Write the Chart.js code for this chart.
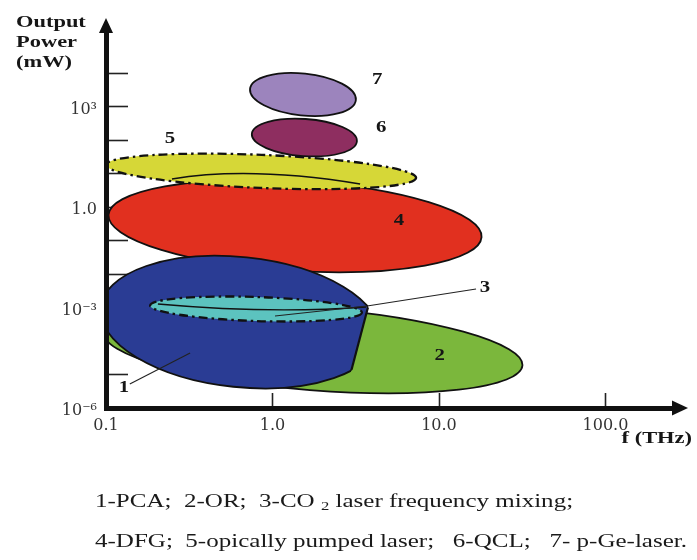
<!DOCTYPE html>
<html>
<head>
<meta charset="utf-8">
<script src="https://cdn.jsdelivr.net/npm/chart.js@4.4.1/dist/chart.umd.min.js"></script>
<style>
  html, body { margin: 0; padding: 0; background: #fff; }
  #wrap { position: relative; width: 697px; height: 560px; }
  #grafico { position: absolute; left: 0; top: 0; }
  .nota {
    position: absolute; left: 95px;
    font-family: 'Liberation Serif', serif; font-size: 18px; line-height: 18px;
    white-space: pre; color: #1a1a1a;
    transform: scaleX(1.39); transform-origin: 0 0;
  }
  .nota sub { font-size: 12px; line-height: 0; vertical-align: -3px; }
</style>
</head>
<body>
<div id="wrap">
  <canvas id="grafico" width="697" height="560"></canvas>
  <div class="nota" style="top:492px">1-PCA;  2-OR;  3-CO <sub>2</sub> laser frequency mixing;</div>
  <div class="nota" style="top:532px">4-DFG;  5-opically pumped laser;   6-QCL;   7- p-Ge-laser.</div>
</div>
<script>
// ── DATOS ──────────────────────────────────────
// Regiones de cada fuente THz: rango de frecuencia (THz) y de potencia (mW)
const FUENTES = ['1', '2', '3', '4', '5', '6', '7'];
const NOMBRES = ['PCA', 'OR', 'CO2 laser frequency mixing', 'DFG', 'opically pumped laser', 'QCL', 'p-Ge-laser'];
const F_MIN   = [0.092,  0.096,  0.184,   0.103,  0.100, 0.75, 0.73];
const F_MAX   = [4.43,   32,     3.45,    18.1,   7.3,   3.22, 3.18];
const P_MIN   = [4.2e-6, 3.4e-6, 3.95e-4, 0.0123, 3.7,   33,   540];
const P_MAX   = [0.032,  9.7e-4, 2.06e-3, 5.97,   36,    424,  9660];
// la región 1 termina en un corte inclinado: f del corte a la altura de P_MAX y de P_MIN
const CORTE_ARRIBA = [4.5, null, null, null, null, null, null];
const CORTE_ABAJO  = [2.8, null, null, null, null, null, null];

// Ejes
const X_TICKS  = [0.1, 1, 10, 100];
const X_LABELS = ['0.1', '1.0', '10.0', '100.0'];
const Y_TICKS  = [1e-6, 1e-5, 1e-4, 1e-3, 1e-2, 1e-1, 1, 1e1, 1e2, 1e3, 1e4];
const Y_LABELS = ['10⁻⁶', '', '', '10⁻³', '', '', '1.0', '', '', '10³', ''];

// Trazos auxiliares en unidades de los ejes [f, P]
const ARCO_5 = [[0.249, 6.85], [0.733, 16.7], [3.36, 4.86]];
const EJE_3  = [[0.205, 1.27e-3], [0.966, 6.4e-4], [3.65, 1.035e-3]];
const GUIA_3 = [[16.7, 3.56e-3], [3.70, 1.11e-3], [1.035, 5.57e-4]];
const GUIA_1 = [[0.139, 5.2e-6], [0.32, 4.38e-5]];
const ROTULO = [[0.128, 3.95e-6], [10.1, 3.56e-5], [18.9, 3.82e-3], [5.75, 0.382], [0.242, 107], [4.49, 228], [4.25, 6180]];

// ── ESTILO ─────────────────────────────────────
const COLORES  = ['#2a3c94', '#7bb73c', '#5cc3bf', '#e1301f', '#d6d737', '#8e2e60', '#9c84bd'];
const GIRO     = [6, 4.5, 1.9, 3.4, 2.4, 4, 6];          // grados
const PUNTEADA = [false, false, true, false, true, false, false];
const ORDEN    = [3, 4, 1, 0, 2, 5, 6];
const SERIF    = '"Liberation Serif", serif';

// ── DIBUJO ─────────────────────────────────────
function caminoElipse(ctx, sx, sy, i) {
  const cx = sx.getPixelForValue(Math.sqrt(F_MIN[i] * F_MAX[i]));
  const cy = sy.getPixelForValue(Math.sqrt(P_MIN[i] * P_MAX[i]));
  const rx = Math.abs(sx.getPixelForValue(F_MAX[i]) - sx.getPixelForValue(F_MIN[i])) / 2;
  const ry = Math.abs(sy.getPixelForValue(P_MIN[i]) - sy.getPixelForValue(P_MAX[i])) / 2;
  ctx.beginPath();
  ctx.ellipse(cx, cy, rx, ry, GIRO[i] * Math.PI / 180, 0, 2 * Math.PI);
}

function bordeElipse(ctx, i) {
  ctx.strokeStyle = '#111';
  if (PUNTEADA[i]) { ctx.lineWidth = 2.3; ctx.setLineDash([9, 4, 2.5, 4]); }
  else { ctx.lineWidth = 1.8; ctx.setLineDash([]); }
  ctx.stroke();
  ctx.setLineDash([]);
}

function dibujarRegion(ctx, sx, sy, i, a) {
  const corte = CORTE_ARRIBA[i] !== null;
  let xa, xb;
  if (corte) {
    // prolonga la recta del corte hasta los bordes del área
    const x1 = sx.getPixelForValue(CORTE_ARRIBA[i]), y1 = sy.getPixelForValue(P_MAX[i]);
    const x2 = sx.getPixelForValue(CORTE_ABAJO[i]),  y2 = sy.getPixelForValue(P_MIN[i]);
    const m = (x2 - x1) / (y2 - y1);
    xa = x1 + m * (a.top - y1);
    xb = x1 + m * (a.bottom - y1);
  }
  ctx.save();
  if (corte) {
    ctx.beginPath();
    ctx.moveTo(a.left - 10, a.top);
    ctx.lineTo(xa, a.top);
    ctx.lineTo(xb, a.bottom);
    ctx.lineTo(a.left - 10, a.bottom);
    ctx.closePath();
    ctx.clip();
  }
  caminoElipse(ctx, sx, sy, i);
  ctx.fillStyle = COLORES[i];
  ctx.fill();
  bordeElipse(ctx, i);
  ctx.restore();
  if (corte) {
    // borde del corte
    ctx.save();
    caminoElipse(ctx, sx, sy, i);
    ctx.clip();
    ctx.beginPath();
    ctx.moveTo(xa, a.top);
    ctx.lineTo(xb, a.bottom);
    ctx.strokeStyle = '#111';
    ctx.lineWidth = 2.2;
    ctx.stroke();
    ctx.restore();
  }
}

function curva(ctx, sx, sy, pts, ancho) {
  const p = pts.map(q => [sx.getPixelForValue(q[0]), sy.getPixelForValue(q[1])]);
  ctx.beginPath();
  ctx.moveTo(p[0][0], p[0][1]);
  if (p.length === 3) ctx.quadraticCurveTo(p[1][0], p[1][1], p[2][0], p[2][1]);
  else ctx.lineTo(p[1][0], p[1][1]);
  ctx.lineWidth = ancho;
  ctx.strokeStyle = '#111';
  ctx.stroke();
}

function polilinea(ctx, sx, sy, pts, ancho) {
  ctx.beginPath();
  pts.forEach((q, k) => {
    const px = sx.getPixelForValue(q[0]), py = sy.getPixelForValue(q[1]);
    if (k === 0) ctx.moveTo(px, py); else ctx.lineTo(px, py);
  });
  ctx.lineWidth = ancho;
  ctx.strokeStyle = '#222';
  ctx.stroke();
}

function texto(ctx, s, px, py, align, base, font, esc) {
  ctx.save();
  ctx.font = font;
  ctx.fillStyle = '#161616';
  ctx.textAlign = align;
  ctx.textBaseline = base;
  ctx.translate(px, py);
  ctx.scale(esc, 1);
  ctx.fillText(s, 0, 0);
  ctx.restore();
}

const pluginRegiones = {
  id: 'regiones',
  beforeDraw(chart) {
    const { ctx, chartArea: a, scales: { x, y } } = chart;
    ctx.save();

    // marcas hacia dentro de los ejes
    ctx.strokeStyle = '#222';
    ctx.lineWidth = 1.6;
    y.ticks.forEach(t => {
      if (t.value <= y.min) return;
      const py = Math.round(y.getPixelForValue(t.value)) + 0.5;
      ctx.beginPath(); ctx.moveTo(a.left, py); ctx.lineTo(a.left + 22, py); ctx.stroke();
    });
    x.ticks.forEach(t => {
      if (t.value <= x.min) return;
      const px = Math.round(x.getPixelForValue(t.value)) + 0.5;
      ctx.beginPath(); ctx.moveTo(px, a.bottom); ctx.lineTo(px, a.bottom - 15); ctx.stroke();
    });

    ctx.beginPath();
    ctx.rect(a.left, a.top, a.right - a.left, a.bottom - a.top);
    ctx.clip();

    ORDEN.forEach(i => dibujarRegion(ctx, x, y, i, a));

    curva(ctx, x, y, ARCO_5, 1.6);
    curva(ctx, x, y, EJE_3, 1.4);
    polilinea(ctx, x, y, GUIA_3, 1.1);
    polilinea(ctx, x, y, GUIA_1, 1.1);

    FUENTES.forEach((f, i) => {
      texto(ctx, f, x.getPixelForValue(ROTULO[i][0]), y.getPixelForValue(ROTULO[i][1]),
            'center', 'middle', 'bold 16px ' + SERIF, 1.3);
    });
    ctx.restore();
  },
  afterDraw(chart) {
    const { ctx, chartArea: a } = chart;
    ctx.save();
    ctx.fillStyle = '#111';
    // flecha vertical
    ctx.beginPath();
    ctx.moveTo(a.left, a.top - 12);
    ctx.lineTo(a.left - 7, a.top + 3);
    ctx.lineTo(a.left + 7, a.top + 3);
    ctx.closePath();
    ctx.fill();
    // flecha horizontal
    ctx.beginPath();
    ctx.moveTo(a.right + 14, a.bottom);
    ctx.lineTo(a.right - 2, a.bottom - 7.5);
    ctx.lineTo(a.right - 2, a.bottom + 7.5);
    ctx.closePath();
    ctx.fill();
    ctx.restore();

    const fTit = 'bold 17px ' + SERIF;
    texto(ctx, 'Output', 16, 27, 'left', 'alphabetic', fTit, 1.32);
    texto(ctx, 'Power', 16, 47, 'left', 'alphabetic', fTit, 1.32);
    texto(ctx, '(mW)', 16, 67, 'left', 'alphabetic', fTit, 1.32);
    texto(ctx, 'f (THz)', 692, 443, 'right', 'alphabetic', fTit, 1.32);
  }
};

// ── GRÁFICO ────────────────────────────────────
const fuenteEje = { family: '"DejaVu Serif", serif', size: 16 };

new Chart(document.getElementById('grafico'), {
  type: 'scatter',
  data: {
    datasets: FUENTES.map((f, i) => ({
      label: f + '-' + NOMBRES[i],
      data: [{ x: Math.sqrt(F_MIN[i] * F_MAX[i]), y: Math.sqrt(P_MIN[i] * P_MAX[i]) }],
      pointRadius: 0,
      pointHoverRadius: 0
    }))
  },
  options: {
    responsive: false,
    animation: false,
    layout: { padding: { top: 30, right: 23, left: 0, bottom: 0 } },
    plugins: { legend: { display: false }, tooltip: { enabled: false }, title: { display: false } },
    scales: {
      x: {
        type: 'logarithmic',
        min: 0.1,
        max: 258,
        afterBuildTicks: s => { s.ticks = X_TICKS.map(v => ({ value: v })); },
        afterFit: s => { s.height = 152; },
        grid: { display: false, drawTicks: false },
        border: { display: true, color: '#111', width: 5 },
        ticks: {
          autoSkip: false, maxRotation: 0, padding: 8, color: '#333', font: fuenteEje,
          callback: (v, i) => X_LABELS[i]
        }
      },
      y: {
        type: 'logarithmic',
        min: 1e-6,
        max: 1.92e5,
        afterBuildTicks: s => { s.ticks = Y_TICKS.map(v => ({ value: v })); },
        afterFit: s => { s.width = 106; },
        grid: { display: false, drawTicks: false },
        border: { display: true, color: '#111', width: 5 },
        ticks: {
          autoSkip: false, padding: 9, labelOffset: 3, color: '#333', font: fuenteEje,
          callback: (v, i) => Y_LABELS[i]
        }
      }
    }
  },
  plugins: [pluginRegiones]
});
</script>
</body>
</html>
